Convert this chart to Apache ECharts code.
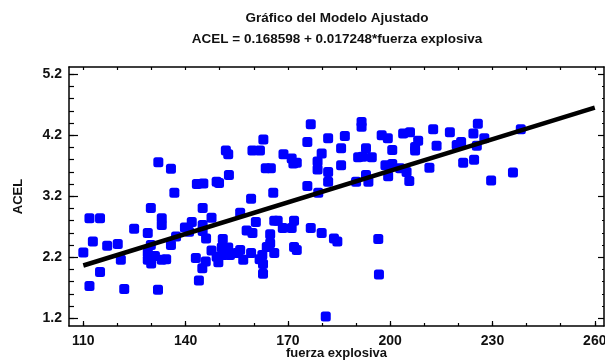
<!DOCTYPE html>
<html>
<head>
<meta charset="utf-8">
<style>html,body{margin:0;padding:0;background:#fff}#c{width:605px;height:362px}</style>
<script src="https://cdn.jsdelivr.net/npm/echarts@6/dist/echarts.min.js"></script>
</head>
<body>
<div id="c"></div>
<script>
// Data
const fuerza = [110,111.8,111.8,112.8,114.9,114.9,117,120.1,121,122,124.9,128.9,128.9,128.9,129.8,129.8,129.9,131,131.9,132,133,133,133,134.3,135.7,135.7,136.7,137.2,139.8,141,141.8,143,143.3,143.9,145.2,145,145,145,144.9,146,145.9,147.6,147.6,149.1,149.8,149.6,150.9,150.6,152.5,149.1,151.1,153,155,151.8,152.5,152.7,156,156,156.9,157.9,159.6,159.2,159.2,159.6,161.8,160.6,161.7,162.5,162.7,162.7,162.8,163.8,164.8,164.8,163.5,165,165.7,166,166,167,168.7,168.5,171.1,171.8,171.1,171.6,172.6,171.8,172.6,175.7,175.7,176.7,176.7,178.7,178.7,178.9,179.9,179.9,181.1,181.8,181.8,181.8,183.5,184.5,185.6,185.6,186.7,190,190.6,191.9,191.6,191.6,192.9,192.9,193.6,194.6,196.5,196.7,197.5,199.3,198.6,200.6,199.4,200.6,202.9,203.8,205.8,204.8,205.6,207.3,207.3,208.2,211.5,212.6,213.6,217.5,219.5,220.8,221.4,224.4,224.6,225.4,225.7,227.6,229.6,236,238.3];
const acel = [2.28,2.84,1.73,2.46,2.84,1.96,2.39,2.42,2.16,1.68,2.67,2.60,2.27,2.16,3.01,2.40,2.10,2.22,1.67,3.76,2.84,2.73,2.16,2.17,3.65,2.40,3.26,2.54,2.69,2.62,2.78,2.19,3.40,1.82,3.41,3.01,2.73,2.63,2.02,2.51,2.13,2.85,2.31,3.44,3.42,2.12,2.50,2.36,2.36,2.21,2.24,2.24,2.27,3.95,3.89,3.55,2.93,2.32,2.16,2.64,2.60,3.16,2.27,3.95,3.95,2.78,2.17,2.24,2.09,1.93,4.13,2.37,2.43,2.58,3.66,3.66,3.26,2.27,2.80,2.80,3.89,2.68,2.68,2.80,3.82,3.74,3.75,2.37,2.32,4.09,3.37,4.38,2.68,3.77,3.64,3.26,3.90,2.60,1.23,4.15,3.60,3.44,2.51,2.46,3.99,3.71,4.19,3.44,3.84,3.85,4.42,4.34,3.99,3.55,3.44,3.84,2.50,1.92,4.20,4.15,3.71,3.96,3.53,3.73,3.66,4.23,4.25,3.60,3.45,4.01,3.95,4.11,3.67,4.30,4.03,4.25,4.04,4.09,3.75,4.23,3.80,4.03,4.39,4.15,3.46,3.59,4.30];
// Fitted line endpoints
const fitX = [110, 260];
const fitY = [2.066, 4.653];
// Ticks
const xTicks = [110,140,170,200,230,260];
const xMinorTicks = [110,120,130,140,150,160,170,180,190,200,210,220,230,240,250,260];
const yTicks = [1.2,2.2,3.2,4.2,5.2];
const yMinorTicks = [1.2,1.4,1.6,1.8,2.0,2.2,2.4,2.6,2.8,3.0,3.2,3.4,3.6,3.8,4.0,4.2,4.4,4.6,4.8,5.0,5.2];
const titleText = 'Gráfico del Modelo Ajustado';
const subtitleText = 'ACEL = 0.168598 + 0.017248*fuerza explosiva';
const xName = 'fuerza explosiva';
const yName = 'ACEL';

const XMIN = 105.8, XMAX = 262.7, YMIN = 1.074, YMAX = 5.32;
const FONT = "'Liberation Sans', Arial, sans-serif";
const black = '#000';

function xAx(pos, grid, opts) {
  return Object.assign({
    type: 'value', position: pos, gridIndex: grid, min: XMIN, max: XMAX,
    splitLine: {show: false},
    axisLine: {show: false},
    axisTick: {show: false},
    axisLabel: {show: false}
  }, opts);
}
function yAx(pos, grid, opts) {
  return Object.assign({
    type: 'value', position: pos, gridIndex: grid, min: YMIN, max: YMAX,
    splitLine: {show: false},
    axisLine: {show: false},
    axisTick: {show: false},
    axisLabel: {show: false}
  }, opts);
}
const gridBox = {left: 69, right: 1, top: 67, bottom: 36, containLabel: false, outerBoundsMode: 'none'};

const chart = echarts.init(document.getElementById('c'), null, {renderer: 'canvas'});
chart.setOption({
  animation: false,
  backgroundColor: '#fff',
  grid: [Object.assign({}, gridBox), Object.assign({}, gridBox)],
  graphic: [
    {type: 'text', x: 337, y: 18, style: {text: titleText, textAlign: 'center', textVerticalAlign: 'middle', font: 'bold 13.5px ' + FONT, fill: '#111'}},
    {type: 'text', x: 337, y: 39, style: {text: subtitleText, textAlign: 'center', textVerticalAlign: 'middle', font: 'bold 13.5px ' + FONT, fill: '#111'}}
  ],
  xAxis: [
    xAx('bottom', 0, {
      name: xName, nameLocation: 'middle', nameGap: 21, nameMoveOverlap: false,
      nameTextStyle: {fontFamily: FONT, fontWeight: 'bold', fontSize: 13, color: '#111'},
      axisLine: {show: true, onZero: false, lineStyle: {color: black, width: 1.5}},
      axisTick: {show: true, inside: true, length: 5, customValues: xTicks, lineStyle: {color: black, width: 1.2}},
      axisLabel: {show: true, customValues: xTicks, margin: 8, fontFamily: FONT, fontWeight: 'bold', fontSize: 14, color: '#111'}
    }),
    xAx('top', 0, {
      axisLine: {show: true, onZero: false, lineStyle: {color: black, width: 1.5}},
      axisTick: {show: true, inside: true, length: 3, customValues: xMinorTicks, lineStyle: {color: black, width: 1.2}}
    }),
    xAx('bottom', 1, {
      axisTick: {show: true, inside: true, length: 3, customValues: xMinorTicks, lineStyle: {color: black, width: 1.2}}
    })
  ],
  yAxis: [
    yAx('left', 0, {
      name: yName, nameLocation: 'middle', nameGap: 44, nameRotate: 90, nameMoveOverlap: false,
      nameTextStyle: {fontFamily: FONT, fontWeight: 'bold', fontSize: 13, color: '#111'},
      axisLine: {show: true, onZero: false, lineStyle: {color: black, width: 1.5}},
      axisTick: {show: true, inside: true, length: 9, customValues: yTicks, lineStyle: {color: black, width: 1.2}},
      axisLabel: {show: true, customValues: yTicks, margin: 7, fontFamily: FONT, fontWeight: 'bold', fontSize: 14, color: '#111',
        formatter: v => v.toFixed(1)}
    }),
    yAx('right', 0, {
      axisLine: {show: true, onZero: false, lineStyle: {color: black, width: 1.5}},
      axisTick: {show: true, inside: true, length: 6, customValues: yTicks, lineStyle: {color: black, width: 1.2}}
    }),
    yAx('left', 1, {
      axisTick: {show: true, inside: true, length: 5, customValues: yMinorTicks, lineStyle: {color: black, width: 1.2}}
    }),
    yAx('right', 1, {
      axisTick: {show: true, inside: true, length: 2, customValues: yMinorTicks, lineStyle: {color: black, width: 1.2}}
    })
  ],
  series: [
    {
      type: 'scatter', xAxisIndex: 0, yAxisIndex: 0,
      symbol: 'roundRect', symbolSize: 10,
      itemStyle: {color: '#0000FF', opacity: 1},
      data: fuerza.map((x, i) => [x, acel[i]]),
      z: 2
    },
    {
      type: 'line', xAxisIndex: 0, yAxisIndex: 0,
      data: fitX.map((x, i) => [x, fitY[i]]),
      showSymbol: false, symbol: 'none',
      lineStyle: {color: black, width: 4.5},
      z: 3
    }
  ]
});
</script>
</body>
</html>
